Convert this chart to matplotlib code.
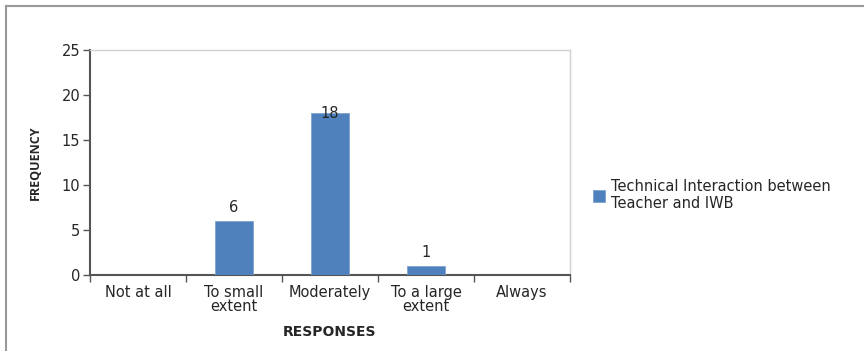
import matplotlib.pyplot as plt
import numpy as np
from matplotlib.lines import Line2D

categories = ["Not at all", "To small\nextent", "Moderately", "To a large\nextent", "Always"]
frequency = [0, 6, 18, 1, 0]
series_name = "Technical Interaction between\nTeacher and IWB"

plt.rcParams["font.family"] = ["DejaVu Sans"]
text_color = "#262626"
bar_color = "#4F81BD"

fig = plt.figure(figsize=(8.64, 3.51), dpi=100)
ax = fig.add_axes([90 / 864, 1 - 275 / 351, 480 / 864, 225 / 351])

x = np.arange(len(categories))
bars = ax.bar(x, frequency, width=0.4, color=bar_color, edgecolor="#7FA3D1",
              linewidth=0.6, label=series_name, zorder=3)

# value labels for the non-empty bars
for b, v in zip(bars, frequency):
    if v == 0:
        continue
    dy = 0 if v == max(frequency) else 4
    ax.annotate(str(v), (b.get_x() + b.get_width() / 2, v), xytext=(0, dy),
                textcoords="offset points", ha="center", va="bottom" if dy else "center",
                fontsize=10.5, color=text_color, zorder=4)

ax.set_xlim(-0.5, len(categories) - 0.5)
ax.set_ylim(0, 25)
ax.set_yticks(range(0, 26, 5))
ax.set_xticks(x)
ax.set_xticklabels(categories, fontsize=10.5, color=text_color, linespacing=0.95)
ax.set_xticks(np.arange(-0.5, len(categories)), minor=True)
ax.tick_params(axis="x", which="major", length=0, pad=7)
ax.tick_params(axis="x", which="minor", length=5, direction="out", color="#555555", width=1)
ax.tick_params(axis="y", length=5, direction="out", color="#555555", width=1,
               labelsize=10.5, labelcolor=text_color, pad=2)

for side in ("left", "bottom"):
    ax.spines[side].set_color("#555555")
    ax.spines[side].set_linewidth(1.5)
for side in ("top", "right"):
    ax.spines[side].set_color("#d0d0d0")
    ax.spines[side].set_linewidth(1)

ax.set_ylabel("FREQUENCY", fontsize=9, fontweight="bold", color=text_color, labelpad=14,
              family=["Liberation Sans Narrow", "Open Sans"])
ax.set_xlabel("RESPONSES", fontsize=10, fontweight="bold", color=text_color, labelpad=8)

ax.legend(loc="center left", bbox_to_anchor=(580 / 864, 1 - 195 / 351),
          bbox_transform=fig.transFigure, frameon=False, fontsize=10.5,
          handlelength=0.8, handleheight=0.8, handletextpad=0.4,
          labelcolor=text_color)

# outer frame lines along the top and left edges
frame = dict(color="#999999", linewidth=1.5, transform=fig.transFigure)
fig.add_artist(Line2D([6 / 864, 1], [1 - 6 / 351, 1 - 6 / 351], **frame))
fig.add_artist(Line2D([6 / 864, 6 / 864], [0, 1 - 6 / 351], **frame))

fig.savefig("out.png", dpi=100)
